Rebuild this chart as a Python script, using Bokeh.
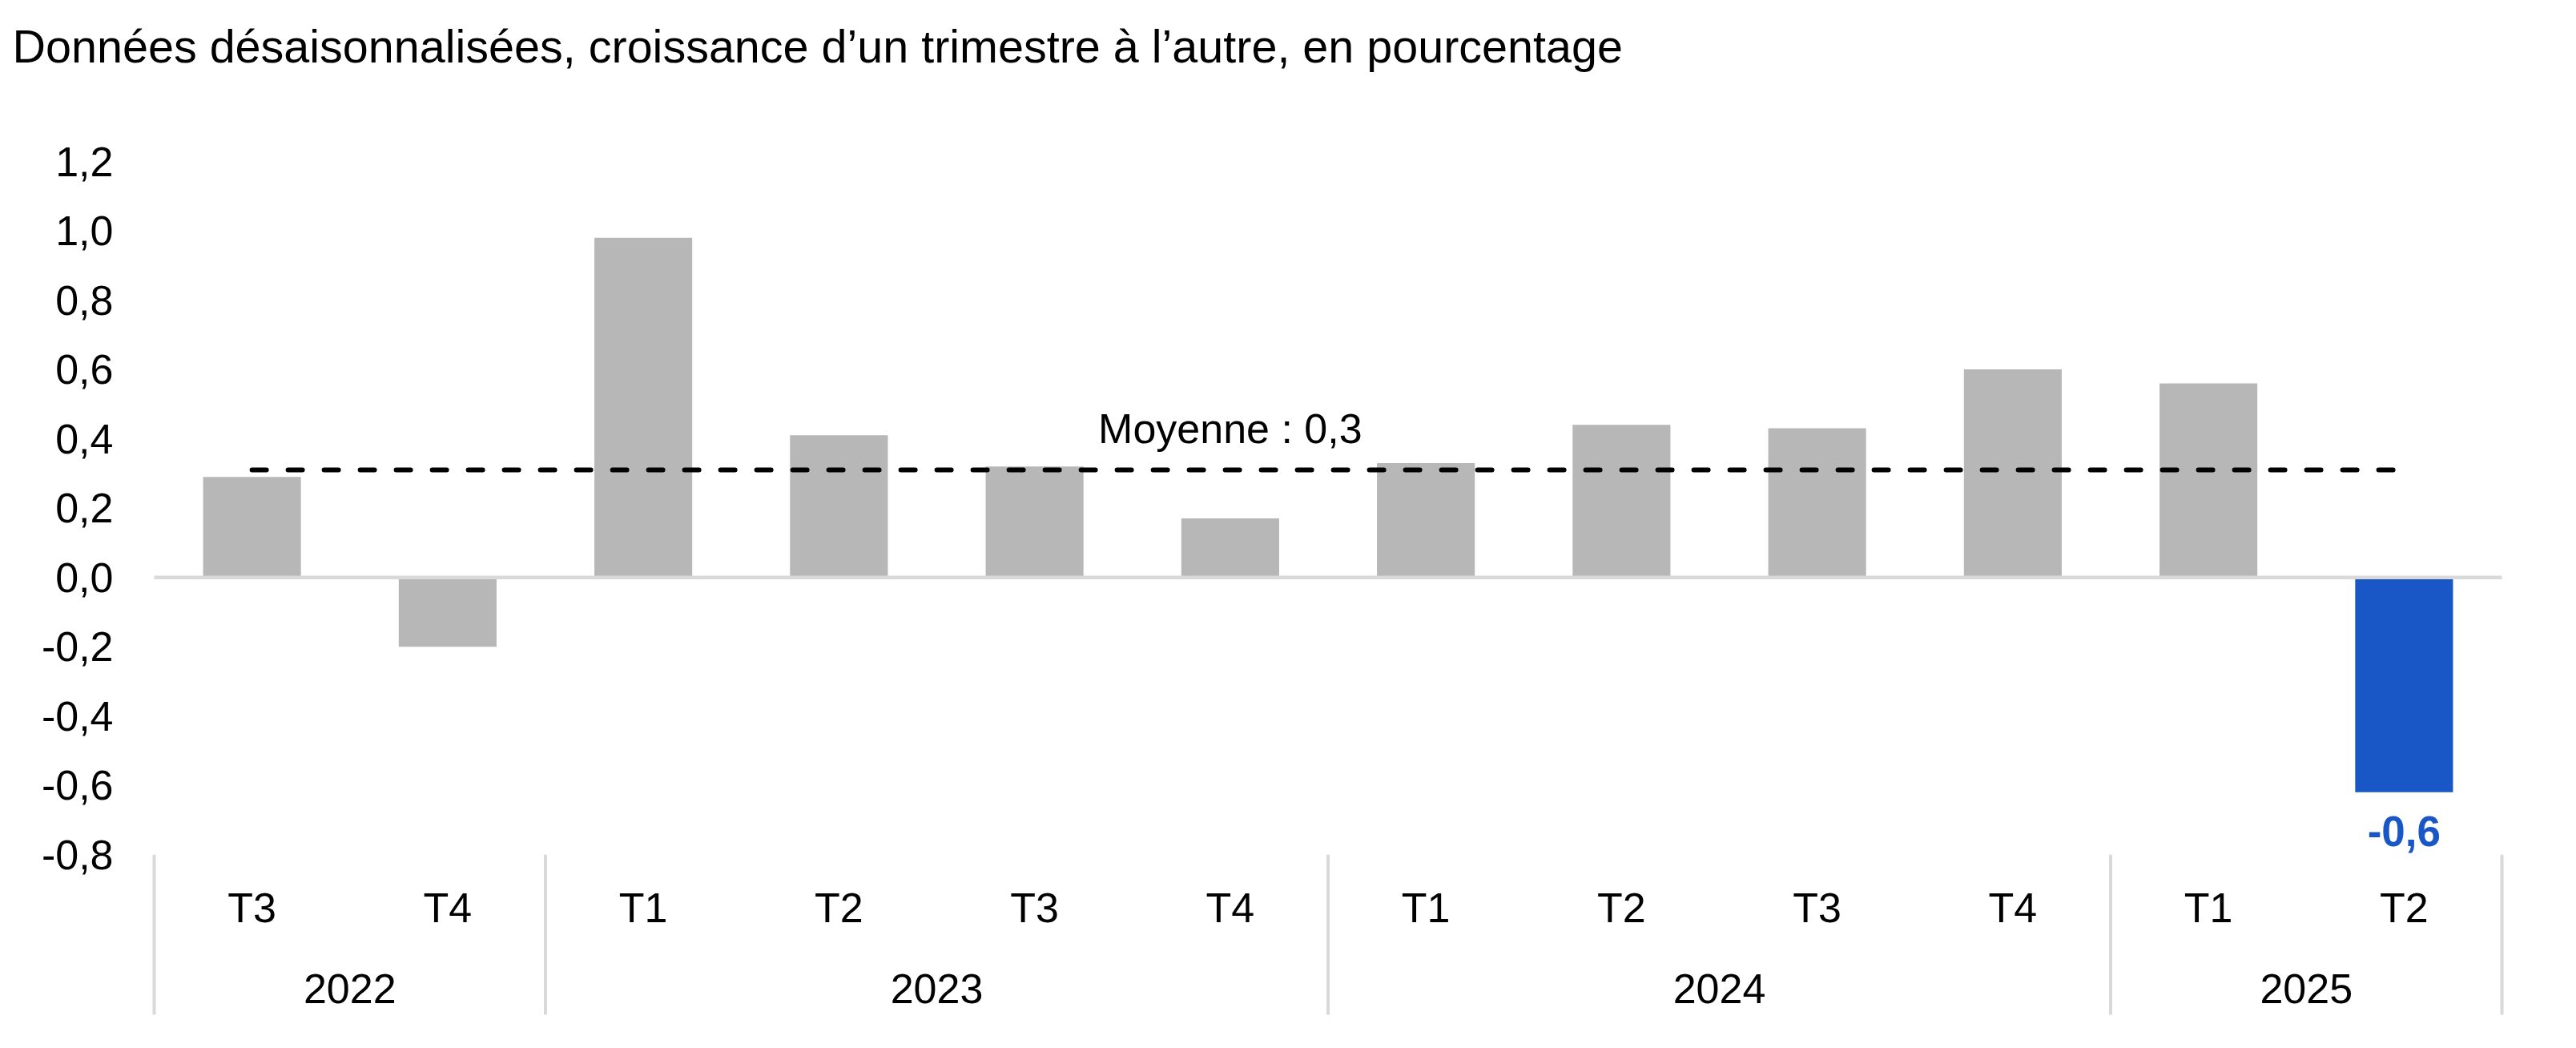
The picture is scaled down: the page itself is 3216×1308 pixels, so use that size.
from bokeh.plotting import figure
from bokeh.models import (FactorRange, Range1d, FixedTicker, CustomJSTickFormatter,
                          ColumnDataSource, Title)
from bokeh.transform import dodge
from bokeh.core.properties import value
from bokeh.embed import file_html
from bokeh.resources import INLINE

# ---------------- data ----------------
title_text = "Données désaisonnalisées, croissance d’un trimestre à l’autre, en pourcentage"
years = ["2022", "2022", "2023", "2023", "2023", "2023",
         "2024", "2024", "2024", "2024", "2025", "2025"]
quarters = ["T3", "T4", "T1", "T2", "T3", "T4", "T1", "T2", "T3", "T4", "T1", "T2"]
values = [0.29, -0.20, 0.98, 0.41, 0.32, 0.17, 0.33, 0.44, 0.43, 0.60, 0.56, -0.62]
moyenne = 0.31
moyenne_label = "Moyenne"
y_ticks = [-0.8, -0.6, -0.4, -0.2, 0.0, 0.2, 0.4, 0.6, 0.8, 1.0, 1.2]
highlight_index = 11      # last quarter, highlighted in blue
moyenne_label_index = 5   # the mean label sits above this quarter

# ---------------- style ----------------
FONT = "Liberation Sans"
GRAY = "#b7b7b7"
BLUE = "#1957c7"
LIGHT = "#d9d9d9"
FS = "52px"


def fr(v):
    return f"{v:.1f}".replace(".", ",")


factors = list(zip(years, quarters))
year_groups = list(dict.fromkeys(years))
first_of_group = [factors[years.index(y)] for y in year_groups]

W, H = 3200, 1292
PAD = 0.0327  # small absolute padding so edge separators are not clipped

x_range = FactorRange(*factors, group_padding=0, factor_padding=0, subgroup_padding=0,
                      range_padding=PAD, range_padding_units="absolute")
p = figure(width=W, height=H, x_range=x_range, y_range=Range1d(-1.271, 1.2),
           output_backend="svg", toolbar_location=None,
           min_border_left=184, min_border_right=69, min_border_top=201, min_border_bottom=22,
           background_fill_color="white", border_fill_color="white")
p.outline_line_color = None
p.grid.visible = False
p.xaxis.visible = False

# Title: an empty second line (with a taller line height) keeps the text
# at the top of the canvas while the frame stays where it is.
p.title = Title(text=title_text + "\n", text_font=FONT, text_font_size="57.5px",
                text_font_style="normal", text_color="black", align="left",
                vertical_align="top", offset=-169, standoff=20, text_line_height=1.565)

yax = p.yaxis[0]
yax.ticker = FixedTicker(ticks=y_ticks)
yax.formatter = CustomJSTickFormatter(code="return tick.toFixed(1).replace('.', ',');")
yax.axis_line_color = None
yax.major_tick_line_color = None
yax.minor_tick_line_color = None
yax.major_tick_out = 0
yax.major_tick_in = 0
yax.major_label_standoff = 43
yax.major_label_text_font = FONT
yax.major_label_text_font_size = FS
yax.major_label_text_color = "black"

# bars
colors = [BLUE if i == highlight_index else GRAY for i in range(len(values))]
src = ColumnDataSource(dict(x=factors, top=values, color=colors))
p.vbar(x="x", top="top", bottom=0, width=0.5, fill_color="color", line_color=None, source=src)

# zero line
zsrc = ColumnDataSource(dict(x0=[factors[0]], x1=[factors[-1]], y=[0]))
p.segment(x0=dodge("x0", -0.5, range=x_range), x1=dodge("x1", 0.5, range=x_range),
          y0="y", y1="y", line_color=LIGHT, line_width=4.5, source=zsrc)

# mean dashed line
msrc = ColumnDataSource(dict(x=[factors[0], factors[-1]], y=[moyenne, moyenne]))
p.line(x="x", y="y", line_color="black", line_width=6, line_dash="18 27",
       line_cap="round", source=msrc)
p.text(x=[factors[moyenne_label_index]], y=[moyenne], y_offset=-52,
       text=[f"{moyenne_label} : {fr(moyenne)}"], text_align="center",
       text_baseline="alphabetic", text_font=value(FONT), text_font_size=FS,
       text_color="black")

# highlighted value label
p.text(x=[factors[highlight_index]], y=[values[highlight_index]], y_offset=49,
       text=[fr(values[highlight_index])], text_align="center", text_baseline="alphabetic",
       text_font=value(FONT), text_font_size="53px", text_font_style="bold",
       text_color=BLUE)

# category axis drawn as labels below the -0.8 line
AXIS_Y = y_ticks[0]
qsrc = ColumnDataSource(dict(x=factors, y=[AXIS_Y] * len(factors), text=quarters))
p.text(x="x", y="y", text="text", y_offset=66, text_align="center",
       text_baseline="alphabetic", text_font=value(FONT), text_font_size=FS,
       text_color="black", source=qsrc)
ysrc = ColumnDataSource(dict(x=year_groups, y=[AXIS_Y] * len(year_groups), text=year_groups))
p.text(x="x", y="y", text="text", y_offset=167, text_align="center",
       text_baseline="alphabetic", text_font=value(FONT), text_font_size=FS,
       text_color="black", source=ysrc)

# separators between year groups
SEP_BOTTOM = -1.262
ssrc = ColumnDataSource(dict(x=first_of_group, y0=[AXIS_Y] * len(first_of_group),
                             y1=[SEP_BOTTOM] * len(first_of_group)))
p.segment(x0=dodge("x", -0.5, range=x_range), x1=dodge("x", -0.5, range=x_range),
          y0="y0", y1="y1", line_color=LIGHT, line_width=4, source=ssrc)
esrc = ColumnDataSource(dict(x=[factors[-1]], y0=[AXIS_Y], y1=[SEP_BOTTOM]))
p.segment(x0=dodge("x", 0.5, range=x_range), x1=dodge("x", 0.5, range=x_range),
          y0="y0", y1="y1", line_color=LIGHT, line_width=4, source=esrc)

open("out.html", "w").write(file_html(p, INLINE))
